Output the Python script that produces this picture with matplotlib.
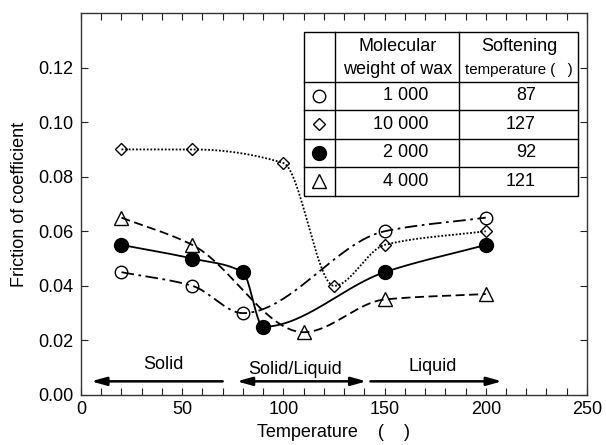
import numpy as np
import matplotlib
matplotlib.use("Agg")
import matplotlib.pyplot as plt
from matplotlib.lines import Line2D
from matplotlib import font_manager

plt.rcParams['font.family'] = ['Liberation Sans', 'DejaVu Sans']

# data
t_open = [20, 55, 80, 150, 200]
mu_open = [0.045, 0.040, 0.030, 0.060, 0.065]

t_diamond = [20, 55, 100, 125, 150, 200]
mu_diamond = [0.090, 0.090, 0.085, 0.040, 0.055, 0.060]

t_filled = [20, 55, 80, 90, 150, 200]
mu_filled = [0.055, 0.050, 0.045, 0.025, 0.045, 0.055]

t_tri = [20, 55, 110, 150, 200]
mu_tri = [0.065, 0.055, 0.023, 0.035, 0.037]

mol_weights = ["1 000", "10 000", "2 000", "4 000"]
soft_temps = ["87", "127", "92", "121"]

# phase ranges (temperature) for the arrows
solid_range = (70, 5)
mixed_range = (77, 141)
liquid_range = (143, 208)

FS = 13


def smooth(x, y, n=60):
    # monotone cubic hermite curve through the points (drawing only)
    x = np.asarray(x, float)
    y = np.asarray(y, float)
    h = np.diff(x)
    d = np.diff(y) / h
    m = np.zeros_like(y)
    m[0], m[-1] = d[0], d[-1]
    for k in range(1, len(x) - 1):
        if d[k - 1] * d[k] > 0:
            w1 = 2 * h[k] + h[k - 1]
            w2 = h[k] + 2 * h[k - 1]
            m[k] = (w1 + w2) / (w1 / d[k - 1] + w2 / d[k])
    xs, ys = [], []
    for k in range(len(x) - 1):
        s = np.linspace(0, 1, n)
        h00 = 2 * s**3 - 3 * s**2 + 1
        h10 = s**3 - 2 * s**2 + s
        h01 = -2 * s**3 + 3 * s**2
        h11 = s**3 - s**2
        xs.append(x[k] + s * h[k])
        ys.append(h00 * y[k] + h10 * h[k] * m[k] + h01 * y[k + 1] + h11 * h[k] * m[k + 1])
    return np.concatenate(xs), np.concatenate(ys)


# condensed font for the small header text, if available
try:
    p = font_manager.findfont('Liberation Sans Narrow', fallback_to_default=False)
    has_narrow = 'Narrow' in p
except Exception:
    has_narrow = False
narrow_kw = dict(family='Liberation Sans Narrow', fontsize=13) if has_narrow else dict(fontsize=10.8)

fig = plt.figure(figsize=(6.06, 4.45), dpi=100)
ax = fig.add_axes([0.1337, 0.1124, 0.8349, 0.8584])

lw = 1.3
series = [
    (t_open, mu_open, dict(marker='o', ms=9, mfc='none'), (0, (7, 2.5, 1.5, 2.5))),
    (t_diamond, mu_diamond, dict(marker='D', ms=6.5, mfc='none'), (0, (1, 1))),
    (t_filled, mu_filled, dict(marker='o', ms=10, mfc='black'), '-'),
    (t_tri, mu_tri, dict(marker='^', ms=10, mfc='none'), (0, (5, 2.5))),
]
for tx, my, mk, ls in series:
    cx, cy = smooth(tx, my)
    ax.plot(cx, cy, color='black', lw=lw, linestyle=ls)
    ax.plot(tx, my, linestyle='none', color='black', mec='black', mew=1.0, **mk)

# phase arrows
ay = 0.005
head = dict(color='black', lw=1.8, shrinkA=0, shrinkB=0)
ax.annotate('', xy=(solid_range[1], ay), xytext=(solid_range[0], ay),
            arrowprops=dict(arrowstyle='-|>,head_length=0.9,head_width=0.25', **head))
ax.annotate('', xy=(mixed_range[1], ay), xytext=(mixed_range[0], ay),
            arrowprops=dict(arrowstyle='<|-|>,head_length=0.9,head_width=0.25', **head))
ax.annotate('', xy=(liquid_range[1], ay), xytext=(liquid_range[0], ay),
            arrowprops=dict(arrowstyle='-|>,head_length=0.9,head_width=0.25', **head))
ax.text(40.5, 0.011, 'Solid', ha='center', va='center', fontsize=FS)
ax.text(106, 0.0095, 'Solid/Liquid', ha='center', va='center', fontsize=FS)
ax.text(174, 0.0105, 'Liquid', ha='center', va='center', fontsize=FS)

ax.set_xlim(0, 250)
ax.set_ylim(0, 0.14)
ax.set_xticks([0, 50, 100, 150, 200, 250])
ax.set_xticks(np.arange(0, 251, 10), minor=True)
ax.set_yticks([0, 0.02, 0.04, 0.06, 0.08, 0.10, 0.12])
ax.set_yticklabels(['0.00', '0.02', '0.04', '0.06', '0.08', '0.10', '0.12'])
ax.tick_params(which='both', direction='in', top=True, right=True, length=5,
               width=0.8, labelsize=FS, colors='#222222', labelcolor='black')
ax.tick_params(axis='x', pad=4)
ax.tick_params(axis='y', pad=5.5)
for sp in ax.spines.values():
    sp.set_linewidth(1.0)
    sp.set_color('#333333')

ax.set_xlabel('Temperature    (    )', fontsize=FS, labelpad=5)
ax.set_ylabel('Friction of coefficient', fontsize=FS, labelpad=7)

# legend table drawn in axes fraction
tx0, tx1 = 0.4407, 0.982
cols = [tx0, 0.502, 0.747, tx1]
rows = [0.951, 0.820, 0.746, 0.671, 0.597, 0.522]
tr = ax.transAxes
ax.add_patch(plt.Rectangle((tx0, rows[-1]), tx1 - tx0, rows[0] - rows[-1],
                           transform=tr, facecolor='white', edgecolor='black', lw=1.0, zorder=5))
for c in cols[1:-1]:
    ax.add_line(Line2D([c, c], [rows[-1], rows[0]], transform=tr, color='black', lw=1.0, zorder=6))
for r in rows[1:-1]:
    ax.add_line(Line2D([tx0, tx1], [r, r], transform=tr, color='black', lw=1.0, zorder=6))

ax.text(0.6255, 0.911, 'Molecular', transform=tr, ha='center', va='center', fontsize=FS, zorder=7)
ax.text(0.6255, 0.852, 'weight of wax', transform=tr, ha='center', va='center', fontsize=FS, zorder=7)
ax.text(0.866, 0.911, 'Softening', transform=tr, ha='center', va='center', fontsize=FS, zorder=7)
ax.text(0.866, 0.852, 'temperature (   )', transform=tr, ha='center', va='center',
        zorder=7, **narrow_kw)

legend_markers = [dict(marker='o', ms=9, mfc='white'), dict(marker='D', ms=6.5, mfc='white'),
                  dict(marker='o', ms=10, mfc='black'), dict(marker='^', ms=10, mfc='white')]
for i, mk in enumerate(legend_markers):
    yc = (rows[i + 1] + rows[i + 2]) / 2
    ax.plot([0.471], [yc], transform=tr, color='black', mec='black', mew=1.0,
            linestyle='none', zorder=8, clip_on=False, **mk)
    ax.text(0.6858, yc, mol_weights[i], transform=tr, ha='right', va='center', fontsize=FS, zorder=7)
    ax.text(0.899, yc, soft_temps[i], transform=tr, ha='right', va='center', fontsize=FS, zorder=7)

fig.savefig('out.png', dpi=100)
